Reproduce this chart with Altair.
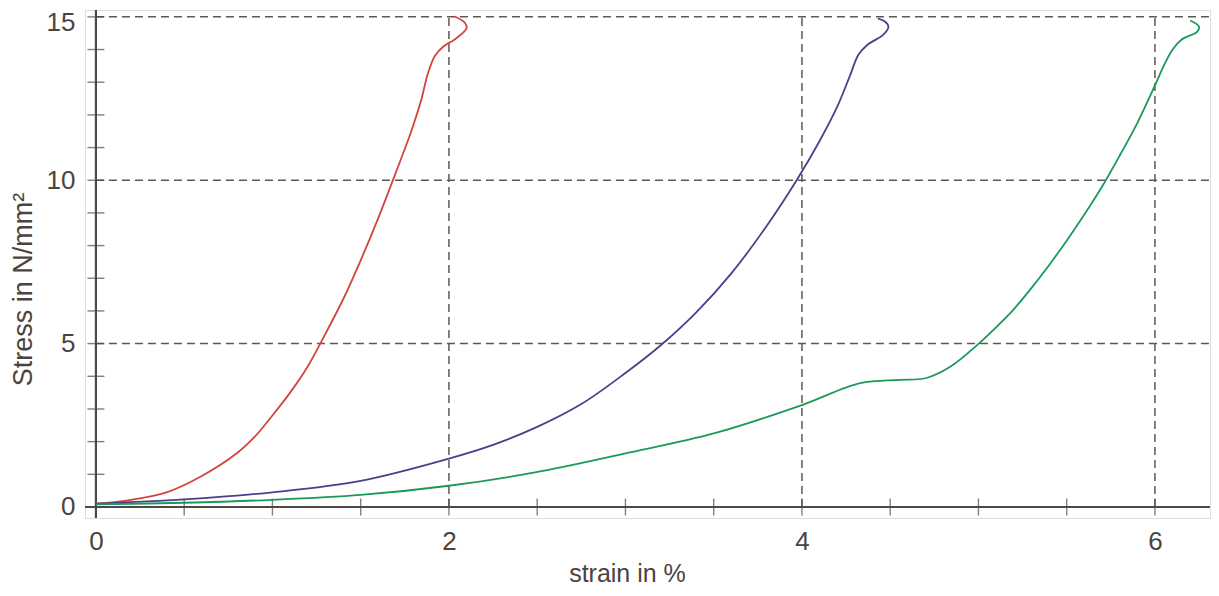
import altair as alt
import pandas as pd

# ---- data ----
red_strain = [0.0, 0.2, 0.4, 0.6, 0.8, 0.9, 1.0, 1.1, 1.2, 1.3, 1.4, 1.5, 1.6, 1.7, 1.78, 1.84, 1.88, 1.92, 1.97, 2.03, 2.1, 2.09, 2.03]
red_stress = [0.1, 0.22, 0.45, 0.95, 1.65, 2.15, 2.8, 3.5, 4.3, 5.3, 6.35, 7.55, 8.85, 10.25, 11.4, 12.4, 13.25, 13.8, 14.1, 14.3, 14.65, 14.82, 15.02]

blue_strain = [0.0, 0.5, 1.0, 1.5, 2.0, 2.25, 2.5, 2.75, 3.0, 3.2, 3.4, 3.6, 3.8, 3.97, 4.1, 4.2, 4.27, 4.32, 4.37, 4.46, 4.49, 4.47, 4.43]
blue_stress = [0.1, 0.23, 0.45, 0.8, 1.48, 1.9, 2.45, 3.15, 4.1, 4.95, 5.95, 7.15, 8.6, 10.0, 11.2, 12.25, 13.17, 13.84, 14.14, 14.45, 14.7, 14.86, 14.95]

green_strain = [0.0, 0.5, 1.0, 1.5, 2.0, 2.48, 3.0, 3.5, 4.0, 4.33, 4.55, 4.7, 4.84, 5.0, 5.1, 5.2, 5.3, 5.4, 5.5, 5.6, 5.7, 5.8, 5.9, 6.0, 6.05, 6.1, 6.15, 6.24, 6.25, 6.2]
green_stress = [0.08, 0.13, 0.22, 0.37, 0.65, 1.05, 1.64, 2.25, 3.12, 3.79, 3.89, 3.94, 4.29, 4.99, 5.5, 6.05, 6.7, 7.4, 8.15, 8.95, 9.8, 10.75, 11.75, 12.9, 13.5, 14.0, 14.3, 14.55, 14.7, 14.89]

series_names = ["red", "blue", "green"]
series_colors = ["#d2453e", "#4a3f8c", "#1a995a"]

x_labels = [0, 2, 4, 6]
y_labels = [0, 5, 10, 15]
x_grid = [2, 4, 6]
y_grid = [5, 10, 15]
x_ticks = [0, 0.5, 1, 1.5, 2, 2.5, 3, 3.5, 4, 4.5, 5, 5.5, 6]
y_ticks = list(range(0, 16))

X_MIN, X_MAX = -0.062, 6.312
Y_MIN, Y_MAX = -0.337, 15.21

# ---- tables ----
rows = []
for name, xs_, ys_ in zip(series_names, [red_strain, blue_strain, green_strain],
                          [red_stress, blue_stress, green_stress]):
    for i, (xv, yv) in enumerate(zip(xs_, ys_)):
        rows.append({"series": name, "strain": xv, "stress": yv, "i": i})
df = pd.DataFrame(rows)

xgrid_df = pd.DataFrame({"x": x_grid})
ygrid_df = pd.DataFrame({"y": y_grid})
xtick_df = pd.DataFrame({"x": x_ticks})
ytick_df = pd.DataFrame({"y": y_ticks})

AX = "#4f4844"
GRID = "#5f5752"
TXT = "#4a4440"
FONT = "Liberation Sans Narrow, Liberation Sans, sans-serif"

xs = alt.Scale(domain=[X_MIN, X_MAX], nice=False, zero=False)
ys = alt.Scale(domain=[Y_MIN, Y_MAX], nice=False, zero=False)

x_axis = alt.Axis(values=x_labels, format="d", title="strain in %", domain=False, ticks=False, grid=False,
                  labelFontSize=26, labelFont=FONT, labelColor=TXT, labelPadding=10,
                  labelFlush=False, titleFont=FONT, titleFontSize=25, titleFontWeight="normal",
                  titleColor=TXT, titleX=542, titleY=63, titleBaseline="alphabetic")
y_axis = alt.Axis(values=y_labels, format="d", title="Stress in N/mm²", domain=False, ticks=False, grid=False,
                  labelFontSize=26, labelFont=FONT, labelColor=TXT, labelPadding=10,
                  labelFlush=False,
                  labelOffset={"condition": {"test": "datum.value == 15", "value": 6}, "value": 0},
                  titleFont="Liberation Sans, sans-serif", titleFontSize=27,
                  titleFontWeight="normal", titleColor=TXT, titleX=-62, titleY=279,
                  titleBaseline="middle")

vgrid = alt.Chart(xgrid_df).mark_rule(color=GRID, strokeWidth=1.5, strokeDash=[8, 5]).encode(
    x=alt.X("x:Q", scale=xs, axis=x_axis),
    y=alt.datum(0, scale=ys, axis=y_axis),
    y2=alt.datum(15),
)
hgrid = alt.Chart(ygrid_df).mark_rule(color=GRID, strokeWidth=1.5, strokeDash=[8, 5]).encode(
    y=alt.Y("y:Q", scale=ys),
    x=alt.datum(0, scale=xs),
    x2=alt.datum(X_MAX),
)
xaxis_line = alt.Chart(xgrid_df).mark_rule(color=AX, strokeWidth=2).encode(
    y=alt.datum(0, scale=ys),
)
yaxis_line = alt.Chart(xgrid_df).mark_rule(color=AX, strokeWidth=2).encode(
    x=alt.datum(0, scale=xs),
)
xticks = alt.Chart(xtick_df).mark_tick(orient="vertical", size=17, thickness=1.4, color=AX).encode(
    x=alt.X("x:Q", scale=xs),
    y=alt.datum(0, scale=ys),
)
yticks = alt.Chart(ytick_df).mark_tick(orient="horizontal", size=17, thickness=1.4, color=AX).encode(
    y=alt.Y("y:Q", scale=ys),
    x=alt.datum(0, scale=xs),
)
lines = alt.Chart(df).mark_line(strokeWidth=1.8, interpolate="catmull-rom").encode(
    x=alt.X("strain:Q", scale=xs),
    y=alt.Y("stress:Q", scale=ys),
    color=alt.Color("series:N", scale=alt.Scale(domain=series_names, range=series_colors), legend=None),
    order="i:Q",
    detail="series:N",
)

chart = alt.layer(vgrid, hgrid, xaxis_line, yaxis_line, xticks, yticks, lines).properties(
    width=1125, height=508,
    autosize=alt.AutoSizeParams(type="none"),
    padding={"left": 77, "top": 2, "right": 1, "bottom": 70},
).configure_view(stroke=None).configure(background="white")

chart.save("out.html", embed_options={"renderer": "svg", "actions": False})
